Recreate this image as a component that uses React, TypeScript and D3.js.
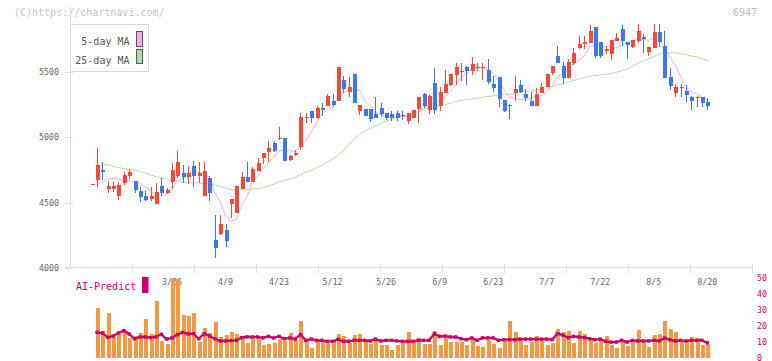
import React from "react";
import * as d3 from "d3";

// ---- Data ----
const openP = [4643,4673,4750,4607,4607,4553,4653,4704,4666,4589,4553,4528,4492,4627,4574,4660,4706,4729,4697,4780,4706,4553,4691,4214,4260,4291,4490,4418,4604,4696,4660,4745,4844,4890,4953,4988,4992,4826,4864,4924,5145,5201,5150,5222,5239,5275,5278,5438,5349,5484,5201,5216,5216,5176,5222,5183,5176,5183,5173,5125,5145,5216,5331,5209,5418,5239,5341,5400,5476,5502,5535,5507,5530,5535,5515,5408,5464,5285,5250,5336,5400,5331,5278,5239,5341,5387,5494,5622,5545,5456,5571,5685,5711,5724,5847,5729,5663,5637,5739,5826,5727,5693,5739,5765,5655,5685,5805,5698,5459,5341,5387,5357,5306,5300,5306,5272];
const highP = [4643,4920,4808,4666,4660,4660,4732,4757,4666,4622,4599,4617,4650,4691,4612,4801,4895,4788,4780,4819,4811,4811,4704,4405,4405,4334,4528,4627,4737,4808,4770,4839,4877,4972,4974,5076,4995,4865,4900,5188,5188,5201,5240,5260,5331,5331,5540,5469,5464,5484,5247,5216,5216,5311,5260,5183,5200,5200,5200,5183,5209,5311,5341,5331,5533,5387,5517,5484,5566,5566,5545,5612,5566,5566,5596,5469,5464,5285,5255,5469,5438,5367,5349,5377,5418,5484,5545,5698,5578,5596,5682,5775,5775,5859,5847,5732,5700,5744,5795,5859,5727,5744,5866,5790,5693,5866,5866,5813,5528,5408,5408,5400,5316,5316,5306,5298];
const lowP = [4643,4617,4673,4576,4580,4520,4635,4681,4571,4507,4512,4515,4492,4551,4566,4602,4691,4653,4645,4622,4648,4553,4515,4079,4253,4163,4380,4418,4604,4660,4660,4740,4793,4813,4890,4979,4821,4821,4857,4903,5110,5110,5140,5163,5239,5232,5278,5336,5311,5265,5170,5165,5114,5145,5160,5130,5122,5122,5130,5102,5145,5112,5222,5178,5178,5204,5341,5395,5400,5431,5400,5476,5510,5438,5408,5349,5232,5196,5140,5280,5336,5278,5239,5239,5336,5387,5476,5566,5408,5456,5553,5673,5673,5724,5610,5607,5637,5593,5739,5700,5597,5685,5724,5643,5622,5685,5693,5456,5362,5311,5311,5273,5209,5234,5229,5209];
const closeP = [4643,4790,4737,4627,4627,4635,4711,4737,4597,4545,4520,4551,4581,4576,4597,4750,4811,4694,4729,4706,4724,4742,4576,4151,4337,4209,4528,4627,4699,4660,4755,4803,4877,4920,4897,4995,4821,4857,4882,5158,5155,5150,5222,5209,5313,5250,5540,5367,5387,5265,5247,5165,5137,5150,5178,5150,5150,5150,5168,5183,5209,5311,5239,5316,5209,5349,5405,5484,5540,5510,5507,5560,5540,5538,5426,5375,5293,5204,5244,5367,5344,5298,5239,5331,5387,5484,5545,5566,5456,5578,5643,5713,5729,5813,5622,5622,5675,5744,5757,5739,5706,5744,5813,5752,5693,5805,5732,5456,5395,5382,5375,5324,5280,5306,5265,5239];

// moving-average values for the first days (history before the visible window)
const ma5Early = [null, 4635, 4662, 4680];
const ma25Early = [null, 4796, 4795, 4790, 4778, 4770, 4760, 4755, 4750, 4738, 4726, 4712, 4700, 4690, 4680, 4673, 4665, 4656, 4653, 4652, 4650, 4648, 4645, 4635];

const volume = [null,31.3,16.7,28,12.9,14.6,16,12.5,13.5,15.4,24.2,15,35.5,10.4,8.7,49.4,49.4,26.9,26.3,28,9.7,18.6,15.4,22.3,12.9,14.3,16,15,12.3,9.3,11.8,11.8,8.1,8.7,9.3,11.8,10.4,15.4,10.8,23,10.4,6.0,10.4,10.4,9.3,10.8,14.8,13.5,9.3,14.4,14.8,10.8,8.7,11.8,8.1,8.1,4.9,8.1,10.4,16,9.7,12.3,8.7,8.7,16.7,8.1,12.3,9.7,9.7,9.7,8.1,10.8,7.2,6.6,10.8,8.7,6.0,10.4,23,16,10.8,8.1,9.7,13.5,10.8,8.1,9.3,17.7,16,16.7,9.3,16.7,14.8,11.8,9.3,11.8,13.5,8.1,6.0,10.8,7.2,10.8,17.3,9.7,6.6,14.4,14.8,23,17.9,16,10.8,9.7,12.9,12.3,8.1,8.7];
const aiPredict = [null,15.8,15.4,12.7,13.5,15.4,16.9,14.8,11.8,12.9,12.9,12.5,12.9,14.6,11.6,12.3,14.4,15.8,14.8,15.0,11.8,15.0,13.5,11.8,10.4,10.4,10.6,10.8,12.5,13.0,12.9,12.9,12.3,13.3,12.3,13.3,11.8,12.3,11.6,14.4,10.8,11.6,10.8,10.8,10.2,10.2,11.4,10.2,10.2,10.8,10.8,10.8,10.4,11.6,10.4,10.8,10.8,10.4,10.2,10.2,10.2,10.8,10.8,10.8,14.8,13.3,13.5,12.9,12.9,11.8,11.2,12.3,10.8,12.3,12.3,12.3,10.8,11.2,11.2,11.2,11.6,11.6,11.6,11.6,11.6,11.6,11.2,15.0,14.1,12.5,13.3,12.9,12.5,11.8,11.2,11.6,10.2,9.7,9.7,10.8,9.7,10.8,10.4,10.4,10.4,10.8,10.4,12.3,11.2,10.4,10.8,10.4,10.8,10.8,10.8,9.3];

const dateLabels = ["3/26","4/9","4/23","5/12","5/26","6/9","6/23","7/7","7/22","8/5","8/20"];
const dateLabelIdx = [15,25,35,45,55,65,75,85,95,105,115];
const priceTicks = [4000,4500,5000,5500];
const rightTicks = [0,10,20,30,40,50];

const W = 772, H = 361;
const MONO = "'DejaVu Sans Mono', 'Liberation Mono', monospace";
const RED = "#f04a38", BLUE = "#3d78ea", PINK = "#e8b2e8", GREEN = "#b6dca6";
const MAG = "#cc0066", ORANGE = "#f29a42", GRID = "#dedede";

function movingAvg(n: number, early: (number | null)[]) {
  return closeP.map((_, i) => {
    if (i < n - 1) return early[i] ?? null;
    return d3.mean(closeP.slice(i - n + 1, i + 1)) as number;
  });
}

export default function App() {
  const N = closeP.length;
  const x = d3.scaleLinear().domain([0, N - 1]).range([91.7, 707.3]);
  const y = d3.scaleLinear().domain([4000, 6000]).range([268, 6.7]);
  const v = d3.scaleLinear().domain([0, 50]).range([357.5, 278]);
  const ma5 = movingAvg(5, ma5Early);
  const ma25 = movingAvg(25, ma25Early);
  const maLine = d3.line<number | null>()
    .defined((d) => d != null)
    .x((_, i) => x(i))
    .y((d) => y(d as number));
  const aiLine = d3.line<number | null>()
    .defined((d) => d != null)
    .x((_, i) => x(i))
    .y((d) => v(d as number));
  const gridX = d3.range(0, 12).map((k) => 70 + 62 * k);

  return (
    <svg width={W} height={H} style={{ position: "fixed", left: 0, top: 0, background: "#fff" }}>
      <rect x={0} y={0} width={W} height={H} fill="#fff" />
      {/* copyright and code */}
      <text x={14} y={16} fontFamily={MONO} fontSize={10} fill="#c4c4c4">(C)https://chartnavi.com/</text>
      <text x={757} y={16} fontFamily={MONO} fontSize={10} fill="#bdbdbd" textAnchor="end">6947</text>

      {/* axes */}
      <g shapeRendering="crispEdges">
        <line x1={70.5} x2={70.5} y1={7} y2={268} stroke={GRID} />
        <line x1={65} x2={752} y1={267.5} y2={267.5} stroke={GRID} />
        {priceTicks.map((t) => (
          <line key={t} x1={65} x2={73} y1={Math.round(y(t)) + 0.5} y2={Math.round(y(t)) + 0.5} stroke={GRID} />
        ))}
        {gridX.slice(1).map((gx) => (
          <line key={gx} x1={gx + 0.5} x2={gx + 0.5} y1={264} y2={273} stroke={GRID} />
        ))}
      </g>
      {priceTicks.map((t) => (
        <text key={t} x={59} y={y(t) + 3} fontFamily={MONO} fontSize={8.3} fill="#666" textAnchor="end">{t}</text>
      ))}
      {dateLabels.map((l, k) => (
        <text key={l} x={x(dateLabelIdx[k])} y={285} fontFamily={MONO} fontSize={8.3} fill="#666" textAnchor="middle">{l}</text>
      ))}

      {/* moving averages */}
      <path d={maLine(ma25) || ""} fill="none" stroke={GREEN} strokeWidth={1} />
      <path d={maLine(ma5) || ""} fill="none" stroke={PINK} strokeWidth={1} />

      {/* candles */}
      <g shapeRendering="crispEdges">
        {closeP.map((c, i) => {
          const o = openP[i];
          const col = c >= o ? RED : BLUE;
          const cx = Math.round(x(i));
          const top = y(Math.max(o, c));
          const bot = y(Math.min(o, c));
          return (
            <g key={i}>
              <line x1={cx + 0.5} x2={cx + 0.5} y1={y(highP[i])} y2={y(lowP[i])} stroke={col} />
              <rect x={cx - 1.5} y={top} width={4} height={Math.max(1, bot - top)} fill={col} />
            </g>
          );
        })}
      </g>

      {/* volume bars */}
      <g shapeRendering="crispEdges">
        {volume.map((d, i) =>
          d == null ? null : (
            <rect key={i} x={Math.round(x(i)) - 1.5} y={v(d)} width={4} height={v(0) - v(d)} fill={ORANGE} />
          )
        )}
      </g>

      {/* AI predict line */}
      <path d={aiLine(aiPredict) || ""} fill="none" stroke={MAG} strokeWidth={2.3} />
      {aiPredict.map((d, i) =>
        d == null ? null : <rect key={i} x={x(i) - 1.7} y={v(d) - 1.7} width={3.4} height={3.4} fill={MAG} />
      )}

      {/* right axis */}
      {rightTicks.map((t) => (
        <text key={t} x={757} y={v(t) + 3} fontFamily={MONO} fontSize={8.3} fill={MAG}>{t}</text>
      ))}

      {/* AI-Predict label */}
      <text x={76} y={290} fontFamily={MONO} fontSize={10} fill={MAG}>AI-Predict</text>
      <rect x={142} y={277} width={6.5} height={16} fill={MAG} />

      {/* legend */}
      <g>
        <rect x={70.5} y={24.5} width={78} height={47} fill="#fff" stroke="#dcdcdc" shapeRendering="crispEdges" />
        <text x={129.5} y={45} fontFamily={MONO} fontSize={10} fill="#555" textAnchor="end">5-day MA</text>
        <text x={129.5} y={63.5} fontFamily={MONO} fontSize={10} fill="#555" textAnchor="end">25-day MA</text>
        <rect x={136.5} y={31.5} width={6} height={15} fill={PINK} stroke="#555" shapeRendering="crispEdges" />
        <rect x={136.5} y={49.5} width={6} height={14} fill={GREEN} stroke="#555" shapeRendering="crispEdges" />
      </g>
    </svg>
  );
}
